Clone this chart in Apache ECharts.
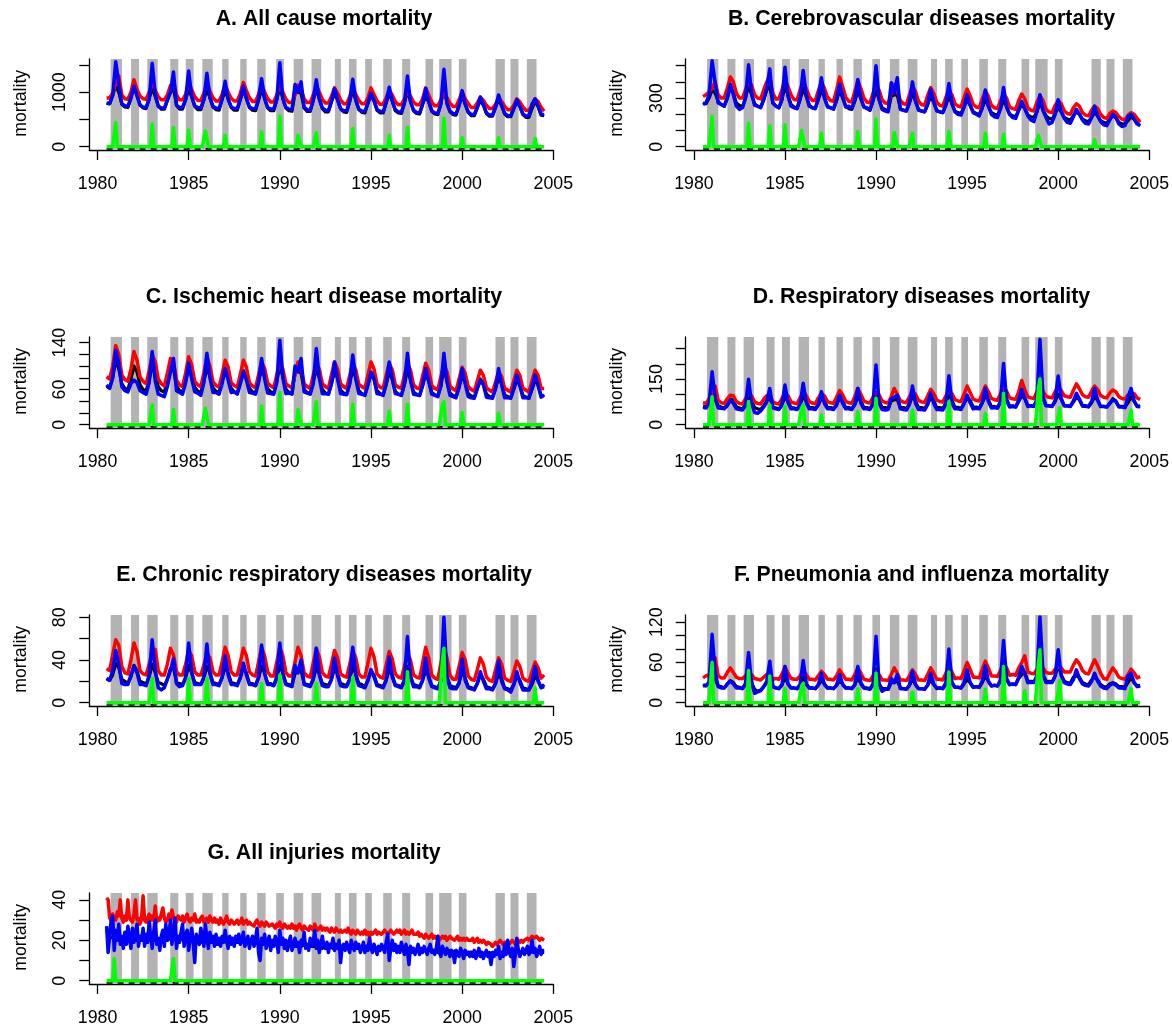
<!DOCTYPE html>
<html>
<head>
<meta charset="utf-8">
<script src="https://cdn.jsdelivr.net/npm/echarts@6/dist/echarts.min.js"></script>
<style>
html,body{margin:0;padding:0;background:#fff;}
#chart{width:1172px;height:1027px;}
</style>
</head>
<body>
<div id="chart"></div>
<script>
// Time span of the monthly series (decimal years)
const T0 = 1980.5, T1 = 2004.5;
const xTicks = [1980, 1985, 1990, 1995, 2000, 2005];

// Influenza epidemic periods (start, end) shaded in every panel
const epidemicPeriods = [
  [1980.72,1981.34],[1981.84,1982.28],[1982.73,1983.30],[1983.99,1984.43],[1984.84,1985.27],
  [1985.75,1986.32],[1986.84,1987.19],[1987.83,1988.18],[1988.76,1989.22],[1989.80,1990.22],
  [1990.76,1991.28],[1991.74,1992.27],[1993.02,1993.35],[1993.79,1994.21],[1994.68,1995.05],
  [1995.67,1996.14],[1996.71,1997.15],[1997.99,1998.41],[1998.74,1999.42],[1999.82,2000.24],
  [2001.83,2002.34],[2002.65,2003.09],[2003.55,2004.08]
];

// A. All cause — two-monthly values (Jul, Sep, Nov, Jan, Mar, May per season)
const allCauseObserved = [
  800,790,950,1120,1000,780, 730,720,890,1100,950,770, 710,700,880,1080,920,750,
  690,690,850,1000,1080,760, 690,690,860,1050,920,740, 680,680,860,1050,900,730,
  680,670,860,1030,880,720, 670,670,860,1040,890,720, 670,660,850,1060,880,710,
  660,660,860,1100,880,710, 660,650,980,1000,980,710, 650,650,850,1060,880,700,
  640,640,820,980,860,690, 640,630,830,1040,850,680, 630,620,800,940,840,670,
  620,620,800,980,840,660, 620,610,800,1020,840,660, 610,600,780,920,820,650,
  600,590,790,1080,800,640, 590,580,760,930,780,630, 570,570,720,850,760,610,
  560,560,720,870,750,600, 550,550,700,820,740,590, 540,540,700,830,740,580, 570
];
const allCauseBaseline = [
  890,900,980,1150,1300,950, 880,870,1000,1230,1050,930, 880,870,1000,1160,1030,920,
  860,860,950,1120,1200,950, 860,860,960,1160,1050,920, 850,850,980,1160,1020,900,
  840,840,960,1130,1000,890, 840,840,980,1180,1030,900, 830,830,960,1130,1000,880,
  820,820,950,1110,1000,870, 810,810,950,1130,1050,880, 810,810,950,1130,1000,870,
  800,800,920,1080,980,860, 790,790,920,1070,960,850, 790,790,900,1080,960,840,
  780,780,900,1040,950,830, 770,770,880,1010,930,820, 770,770,880,1080,950,820,
  750,750,860,990,900,800, 740,740,860,1010,880,790, 720,720,800,910,850,760,
  700,700,780,890,830,740, 680,680,760,880,820,730, 670,670,760,880,830,720, 655
];
const allCauseModel = [
  800,790,940,1560,1160,790, 750,740,900,1110,930,760, 730,720,870,1530,960,740,
  710,710,860,1000,1370,760, 720,720,870,1390,920,750, 720,710,870,1350,900,740,
  710,700,880,1200,870,730, 700,700,880,1110,880,730, 700,690,880,1250,880,720,
  690,690,870,1540,880,720, 690,680,1140,1000,1190,720, 680,670,850,1230,870,710,
  670,660,840,1070,860,700, 660,660,840,1240,860,690, 650,650,800,980,850,680,
  650,640,820,1090,840,680, 640,630,800,1300,830,670, 630,620,780,1070,830,660,
  620,610,780,1420,790,650, 610,600,760,1030,780,640, 590,590,720,910,770,620,
  580,580,730,950,760,610, 570,570,700,860,740,600, 560,570,780,880,740,590, 590
];
const allCauseExcess = [
  [1981.0,440],[1983.0,415],[1984.17,350],[1985.0,305],[1985.92,290],[1986.0,310],[1987.0,210],
  [1989.0,275],[1990.0,565],[1991.0,210],[1991.08,180],[1992.0,255],[1994.0,335],[1996.0,210],
  [1997.0,355],[1999.0,520],[2000.0,170],[2002.0,165],[2004.0,150]
];

// B. Cerebrovascular diseases
const cerebroObserved = [
  270,265,300,350,330,280, 260,250,300,370,330,270, 255,245,300,380,320,265,
  250,245,290,350,370,270, 250,240,290,370,320,260, 245,235,290,360,310,255,
  240,235,290,350,305,250, 240,230,285,350,300,250, 235,230,280,345,295,245,
  235,225,280,350,290,240, 230,220,310,320,320,235, 225,220,270,330,280,230,
  220,215,260,310,275,225, 215,210,255,310,265,220, 210,205,245,290,255,215,
  205,200,240,290,250,210, 200,195,235,290,245,200, 190,185,225,260,235,195,
  185,180,215,270,225,190, 175,170,205,240,215,180, 170,165,190,215,200,170,
  160,155,180,210,190,160, 150,145,170,190,180,150, 140,140,160,185,170,145, 130
];
const cerebroBaseline = [
  310,320,340,360,400,320, 300,300,360,430,400,330, 300,300,350,410,380,320,
  300,295,350,400,430,330, 295,295,350,410,370,320, 290,290,350,400,360,310,
  285,285,345,400,360,305, 285,280,350,430,370,305, 280,275,340,405,360,300,
  275,270,330,385,350,290, 270,265,330,385,345,285, 265,260,320,375,340,280,
  260,255,315,365,330,275, 255,250,305,345,320,265, 250,245,305,355,315,260,
  245,240,295,345,310,255, 240,235,285,325,300,245, 235,230,285,325,295,240,
  225,220,275,315,285,230, 215,210,255,285,265,220, 205,200,240,265,250,210,
  195,190,225,250,235,200, 180,175,205,220,210,185, 170,165,195,210,200,175, 150
];
const cerebroModel = [
  260,270,320,530,395,270, 260,250,300,385,320,250, 230,240,300,505,330,255,
  250,240,290,360,480,270, 250,240,290,490,310,250, 240,235,300,470,320,250,
  240,235,300,425,300,245, 240,235,290,385,310,245, 250,235,290,415,300,245,
  240,225,290,500,290,230, 220,215,395,330,425,230, 225,220,270,400,280,225,
  220,215,260,355,275,220, 215,210,260,390,265,215, 200,195,245,320,255,210,
  200,190,240,350,250,200, 185,180,235,365,245,200, 180,175,225,280,235,190,
  165,155,215,320,225,180, 140,150,200,290,215,175, 150,145,185,230,200,165,
  145,140,180,250,190,155, 135,130,165,200,180,140, 125,130,185,200,170,140, 130
];
const cerebroExcess = [
  [1981.0,188],[1983.0,146],[1984.17,129],[1985.0,135],[1985.92,100],[1986.0,108],[1987.0,83],
  [1989.0,94],[1990.0,171],[1991.0,88],[1991.08,100],[1992.0,83],[1994.0,94],[1996.0,83],
  [1997.0,77],[1998.92,70],[1999.0,77],[2002.0,42]
];

// C. Ischemic heart disease
const ihdObserved = [
  65,63,80,110,95,70, 62,60,78,100,90,68, 60,58,76,100,88,65, 58,56,74,92,96,66,
  58,56,74,95,86,64, 57,55,74,95,84,63, 57,55,74,92,82,62, 56,54,73,92,82,62,
  56,54,73,95,82,61, 56,54,74,100,82,61, 55,53,88,92,88,60, 55,53,72,96,80,60,
  54,52,70,90,80,59, 54,52,70,95,80,58, 53,51,68,86,78,58, 53,51,68,90,78,57,
  52,50,68,94,77,56, 52,50,66,86,75,55, 51,49,66,96,74,54, 50,48,64,84,72,53,
  49,47,62,78,70,52, 48,47,62,80,70,51, 48,46,60,76,68,50, 47,46,60,76,68,50, 49
];
const ihdBaseline = [
  82,78,100,135,120,85, 77,74,95,125,110,82, 74,70,92,119,108,78, 70,66,88,113,108,76,
  68,65,88,116,102,74, 68,65,88,116,100,73, 67,64,86,110,98,72, 67,64,86,110,98,72,
  66,63,85,107,96,71, 66,63,85,105,95,70, 66,63,85,107,96,70, 65,62,84,105,95,70,
  65,62,85,107,95,70, 65,62,84,105,94,69, 65,62,85,107,95,69, 64,62,84,105,94,68,
  64,62,84,105,93,68, 63,61,83,105,93,67, 62,60,82,102,91,66, 61,58,78,98,88,65,
  60,57,75,93,84,63, 59,56,73,90,82,62, 59,56,75,93,84,62, 59,56,75,93,84,62, 62
];
const ihdModel = [
  68,62,80,127,105,65, 58,56,70,76,72,58, 55,52,72,125,75,52, 50,48,65,90,113,58,
  55,52,72,105,78,56, 54,50,72,122,80,55, 55,52,70,96,76,55, 56,52,70,90,76,55,
  54,52,72,113,78,54, 53,52,72,144,80,53, 54,52,100,90,113,56, 54,52,70,130,80,53,
  53,52,70,107,78,53, 52,51,70,119,78,53, 52,50,68,90,78,53, 52,50,70,107,78,53,
  52,50,70,122,76,52, 51,50,68,96,74,52, 50,48,66,122,74,50, 48,46,64,96,70,48,
  46,45,62,76,68,47, 46,45,62,96,68,46, 46,45,62,85,66,46, 46,45,64,85,66,47, 51
];
const ihdExcess = [
  [1983.0,34],[1984.17,26],[1985.92,28],[1986.0,31],[1989.0,32],[1990.0,55],[1991.0,26],
  [1991.08,24],[1992.0,39],[1994.0,35],[1996.0,23],[1997.0,35],[1998.92,34],[1999.0,39],
  [2000.0,21],[2002.0,20]
];

// D. Respiratory diseases
const respObserved = [
  60,58,70,100,85,62, 58,55,65,85,78,58, 55,52,65,95,80,56, 52,50,62,80,90,58,
  55,52,65,90,78,56, 55,52,66,92,78,56, 56,53,66,85,78,56, 56,53,66,88,78,56,
  56,53,66,90,78,56, 56,53,68,105,80,56, 56,53,78,82,82,56, 56,53,68,92,78,56,
  56,53,68,88,78,56, 56,54,70,100,80,57, 57,54,70,88,80,58, 58,55,72,95,82,59,
  60,57,74,105,84,60, 62,58,76,95,86,62, 63,60,78,120,86,63, 62,60,76,100,84,62,
  62,60,74,90,82,61, 60,58,72,92,80,60, 60,58,70,85,78,60, 60,58,72,90,78,60, 62
];
const respBaseline = [
  72,70,85,103,127,80, 72,70,85,97,95,76, 70,68,85,103,95,75, 70,68,84,95,97,75,
  70,68,86,103,95,75, 71,69,88,108,96,76, 71,69,88,103,95,76, 72,70,90,112,98,77,
  72,70,92,119,100,78, 73,71,90,103,98,78, 73,71,92,119,100,79, 74,72,92,108,100,80,
  75,73,94,116,102,81, 76,74,94,114,102,82, 78,76,100,127,106,84, 80,78,102,127,108,86,
  82,80,102,125,110,88, 85,83,108,145,115,92, 88,86,108,125,110,94, 90,88,108,125,112,95,
  92,90,112,134,118,98, 92,90,110,127,115,96, 90,88,104,114,108,92, 86,84,98,103,102,88, 83
];
const respModel = [
  57,55,70,174,85,55, 54,52,62,81,70,52, 50,48,62,149,70,40, 37,45,58,75,119,55,
  52,50,64,130,72,52, 52,50,65,136,72,52, 52,50,65,108,70,52, 52,50,64,97,70,52,
  52,50,66,119,70,52, 52,50,68,196,72,50, 48,50,85,90,97,52, 50,48,66,127,70,50,
  50,48,66,103,70,50, 50,48,68,161,72,52, 52,50,68,97,72,52, 54,52,72,119,76,55,
  56,54,76,201,80,58, 60,58,80,116,86,60, 62,60,84,280,90,62, 62,60,80,160,86,62,
  62,60,78,103,84,62, 62,60,76,119,80,60, 60,58,70,81,76,58, 58,56,90,119,78,60, 59
];
const respExcess = [
  [1981.0,92],[1983.0,76],[1984.17,65],[1985.0,61],[1985.92,55],[1986.0,65],[1987.0,32],
  [1989.0,43],[1990.0,87],[1992.0,48],[1994.0,76],[1996.0,37],[1997.0,103],[1998.92,120],
  [1999.0,150],[2000.08,54],[2004.0,48]
];

// E. Chronic respiratory diseases
const chronicObserved = [
  22,21,26,37,33,22, 20,18,24,35,30,20, 19,17,24,36,28,19, 18,16,22,32,33,19,
  18,17,23,35,28,19, 18,17,23,34,28,19, 18,17,23,34,28,19, 18,17,23,33,28,18,
  18,16,23,34,28,18, 18,16,23,35,28,18, 17,16,27,30,30,18, 17,16,22,33,27,18,
  17,16,22,32,27,18, 17,16,22,34,27,18, 17,15,21,30,26,17, 16,15,21,31,26,17,
  16,15,21,34,25,17, 16,15,21,30,25,16, 15,14,20,36,24,16, 15,14,19,29,23,15,
  14,13,18,26,22,15, 14,13,18,27,22,14, 13,12,17,25,21,14, 13,12,17,25,21,14, 15
];
const chronicBaseline = [
  32,30,45,59,54,34, 28,27,40,56,48,30, 27,26,36,46,50,30, 26,26,36,51,45,29,
  26,26,36,49,44,29, 26,26,35,46,42,29, 26,26,38,52,44,29, 26,26,38,51,44,29,
  26,25,38,52,44,29, 25,25,38,52,44,28, 25,25,38,52,44,28, 25,24,37,51,43,28,
  25,24,36,49,42,27, 25,24,36,49,42,27, 24,24,37,51,43,27, 24,23,35,48,41,27,
  24,23,34,46,40,26, 24,23,37,52,42,26, 23,22,37,52,42,26, 22,22,34,47,40,25,
  22,21,31,42,36,24, 21,20,31,42,36,23, 21,20,29,39,34,23, 21,20,29,38,33,23, 26
];
const chronicModel = [
  23,21,30,49,36,18, 17,17,26,34,28,17, 17,16,26,59,30,14, 12,14,22,30,41,18,
  15,16,24,56,28,17, 17,17,24,55,27,17, 17,16,24,44,26,17, 17,16,24,37,26,17,
  17,16,24,54,27,17, 17,16,24,56,27,17, 16,15,35,28,40,17, 16,15,22,51,26,16,
  15,15,22,42,25,16, 15,15,22,52,25,16, 15,14,21,31,24,16, 15,14,21,43,24,16,
  15,14,21,62,24,15, 15,14,21,42,23,15, 14,13,21,80,24,14, 13,13,18,41,21,14,
  13,12,18,29,20,13, 13,12,18,39,20,13, 12,10,17,29,19,12, 12,12,20,34,20,14, 17
];
const chronicExcess = [
  [1983.0,23],[1985.0,23],[1986.0,23],[1989.0,18],[1990.0,26],[1992.0,18],[1994.0,24],
  [1997.0,29],[1998.92,40],[1999.0,51],[2004.0,14]
];

// F. Pneumonia and influenza
const pniObserved = [
  27,25,30,45,35,25, 24,22,28,33,30,24, 23,21,28,45,30,20, 17,19,24,30,38,24,
  22,21,26,38,28,22, 22,21,26,40,28,22, 22,21,26,34,28,22, 22,21,26,33,28,22,
  22,21,26,38,28,22, 22,21,26,50,28,21, 21,20,30,30,33,22, 21,20,26,35,27,21,
  21,20,26,34,27,21, 22,21,28,45,30,23, 23,22,28,35,30,23, 24,23,30,40,32,25,
  26,25,32,52,34,27, 28,27,36,42,45,32, 32,31,40,70,42,32, 32,31,40,55,42,32,
  30,29,38,40,38,30, 28,27,34,38,34,27, 24,23,28,30,28,24, 24,23,30,38,30,25, 26
];
const pniBaseline = [
  37,40,42,42,67,40, 37,37,45,52,45,38, 36,36,40,44,42,36, 35,34,38,42,42,35,
  36,35,42,54,44,36, 35,35,40,49,42,35, 35,34,40,47,42,35, 35,34,40,49,42,35,
  35,34,42,52,44,35, 34,33,40,47,42,34, 34,33,42,52,44,34, 34,33,40,49,42,34,
  34,33,42,52,44,35, 35,34,44,54,46,36, 37,36,48,60,50,38, 38,37,50,62,52,40,
  40,39,48,59,52,41, 42,41,52,60,70,46, 44,43,50,54,52,45, 44,44,50,54,52,46,
  46,46,56,64,58,48, 44,43,54,64,55,44, 36,35,44,52,46,38, 36,35,42,50,45,37, 39
];
const pniModel = [
  25,26,30,102,45,24, 22,22,28,32,28,22, 22,21,28,75,30,14, 16,18,24,32,62,24,
  22,21,27,54,28,22, 22,21,27,63,28,22, 22,21,27,44,27,22, 22,21,26,42,27,22,
  22,21,27,54,30,22, 21,20,28,99,28,17, 20,20,36,30,42,21, 21,20,26,47,27,21,
  21,20,26,44,28,22, 22,21,30,80,30,23, 23,22,30,49,30,23, 24,23,32,55,32,25,
  26,25,34,93,36,27, 28,27,38,54,44,30, 30,30,40,128,42,30, 30,30,40,79,40,30,
  28,27,34,49,36,28, 26,25,32,44,32,25, 22,21,26,29,26,22, 22,21,40,44,30,24, 25
];
const pniExcess = [
  [1981.0,60],[1983.0,48],[1984.17,40],[1985.0,21],[1985.92,25],[1986.0,29],[1989.0,21],
  [1990.0,44],[1992.0,16],[1994.0,46],[1996.0,20],[1997.0,54],[1998.17,18],[1998.92,60],
  [1999.0,79],[2000.08,33],[2004.0,21]
];

// G. All injuries — monthly values (Jul..Jun per row)
const injuryObserved = [
  25,23,22,22,21,22,21,22,21,21,20,21, 21,20,21,22,21,20,21,21,20,21,20,20,
  21,20,21,20,21,20,20,21,20,21,20,20, 20,21,20,21,20,20,21,20,20,21,20,20,
  20,20,21,20,20,21,20,20,20,21,20,20, 20,20,19,20,20,20,19,20,20,19,20,19,
  19,20,19,20,19,19,20,19,19,20,19,19, 19,19,20,19,19,20,19,19,19,20,19,19,
  19,18,19,19,18,19,19,18,19,18,19,18, 18,18,19,18,18,18,19,18,18,18,17,18,
  18,17,18,18,17,18,17,18,17,17,18,17, 17,17,18,17,17,17,18,17,17,17,16,17,
  17,17,16,17,17,16,17,17,16,17,16,16, 16,16,17,16,16,16,17,16,16,16,16,16,
  16,16,16,17,16,16,16,16,17,16,16,16, 16,16,16,17,16,16,16,16,16,16,16,16,
  16,16,16,16,16,15,16,16,15,16,15,15, 15,15,15,16,15,15,15,15,15,15,15,15,
  15,15,14,15,15,14,15,15,14,15,14,14, 14,14,15,14,14,14,14,14,14,14,14,14,
  14,14,14,14,13,14,14,14,13,14,14,13, 14,13,14,14,13,14,14,13,14,14,13,14,
  14,14,14,14,14,14,14,14,14,14,14,14, 14,14,15,14,15,15,14,15,15,14,15,14, 14
];
const injuryBaseline = [
  41,40,31,30,33,31,30,34,32,40,31,29, 32,30,40,31,30,29,33,40,30,31,28,31,
  42,30,29,31,33,30,32,30,37,29,31,30, 30,36,31,29,30,33,30,35,31,30,29,32,
  31,30,32,29,31,33,30,29,31,30,33,29, 30,29,31,32,29,30,31,29,32,30,29,31,
  29,30,28,31,29,28,30,32,29,28,30,29, 28,29,30,28,29,31,28,29,30,28,29,28,
  28,27,29,30,28,27,29,28,27,29,28,27, 27,28,27,26,28,27,29,27,26,28,27,26,
  27,26,28,26,27,25,27,28,26,25,27,26, 26,25,27,26,25,28,26,25,26,27,25,26,
  25,26,25,24,26,25,24,26,25,24,25,24, 24,25,24,26,24,23,25,24,23,25,24,23,
  24,23,25,23,24,22,24,23,24,25,23,24, 24,23,24,25,24,23,24,25,24,23,24,25,
  24,25,23,24,25,23,24,23,24,25,23,23, 23,24,22,23,22,21,23,22,21,22,23,21,
  22,21,22,20,21,22,21,22,20,21,22,21, 21,20,21,22,20,21,20,21,20,21,20,20,
  20,21,19,20,21,19,20,19,20,19,18,19, 19,18,17,18,19,18,19,20,19,18,19,19,
  19,18,19,20,19,18,19,20,19,20,19,20, 20,21,20,21,22,21,21,22,21,20,21,21, 20
];
const injuryModel = [
  27,14,22,30,32,15,25,20,28,18,22,16, 24,18,27,21,16,26,19,23,28,17,22,20,
  26,17,23,19,29,22,16,24,30,18,21,15, 22,25,17,28,20,23,30,18,24,31,16,22,
  19,24,28,17,22,25,15,21,26,19,9,23, 20,18,26,22,17,28,21,16,24,19,22,17,
  23,18,21,17,22,19,25,20,16,22,18,21, 17,22,19,23,18,20,24,17,19,22,16,20,
  22,17,20,26,14,10,21,18,23,16,19,22, 15,20,17,22,19,14,25,18,21,16,20,15,
  19,22,15,18,21,17,19,14,20,18,24,16, 18,15,21,17,19,25,16,20,14,18,22,17,
  16,19,14,18,17,21,15,18,16,20,9,17, 18,15,19,16,14,20,17,15,19,16,18,14,
  16,19,14,17,15,21,16,14,18,16,13,17, 15,18,16,14,19,23,10,16,20,15,18,14,
  17,14,19,16,13,18,15,8,17,14,16,13, 15,18,13,16,14,17,15,13,16,18,14,15,
  13,16,22,14,12,17,15,13,16,14,12,15, 14,9,15,13,12,16,14,11,15,13,14,12,
  14,12,15,11,13,16,12,14,11,13,15,12, 13,8,14,12,15,13,17,11,14,12,18,13,
  20,14,12,16,7,13,21,15,12,14,16,13, 15,17,13,15,20,14,16,12,14,17,13,15, 15
];
const injuryExcess = [[1980.92,11],[1984.17,11]];

// Panel definitions: title, series and y-axis scale
const panels = [
  { title: 'A. All cause mortality', obs: allCauseObserved, base: allCauseBaseline, model: allCauseModel, excess: allCauseExcess,
    yMax: 1610, ticks: [0,500,1000,1500], labels: [0,1000] },
  { title: 'B. Cerebrovascular diseases mortality', obs: cerebroObserved, base: cerebroBaseline, model: cerebroModel, excess: cerebroExcess,
    yMax: 541, ticks: [0,100,200,300,400,500], labels: [0,300] },
  { title: 'C. Ischemic heart disease mortality', obs: ihdObserved, base: ihdBaseline, model: ihdModel, excess: ihdExcess,
    yMax: 149.7, ticks: [0,20,40,60,80,100,120,140], labels: [0,60,140] },
  { title: 'D. Respiratory diseases mortality', obs: respObserved, base: respBaseline, model: respModel, excess: respExcess,
    yMax: 287.8, ticks: [0,50,100,150,200,250], labels: [0,150] },
  { title: 'E. Chronic respiratory diseases mortality', obs: chronicObserved, base: chronicBaseline, model: chronicModel, excess: chronicExcess,
    yMax: 82.2, ticks: [0,20,40,60,80], labels: [0,40,80] },
  { title: 'F. Pneumonia and influenza mortality', obs: pniObserved, base: pniBaseline, model: pniModel, excess: pniExcess,
    yMax: 130.9, ticks: [0,20,40,60,80,100,120], labels: [0,60,120] },
  { title: 'G. All injuries mortality', obs: injuryObserved, base: injuryBaseline, model: injuryModel, excess: injuryExcess,
    yMax: 43.4, ticks: [0,10,20,30,40], labels: [0,20,40] }
];

// Layout (pixels)
const COL_LEFT = [89.3, 685.7];
const PLOT_W = 464;
const ZERO_Y = [146.7, 424.7, 702.7, 980.7];
const ABOVE_ZERO = 87.7, BELOW_ZERO = 3.3;
const TITLE_X = [324, 921.5];
const YLAB_X = [21, 617];
const FONT = '"Liberation Sans", Arial, Helvetica, sans-serif';
const LABEL_SIZE = 17.75, TITLE_SIZE = 21.3;
const plain = v => String(v);

function evenPoints(values) {
  const step = (T1 - T0) / (values.length - 1);
  return values.map((v, i) => [T0 + i * step, v]);
}
function spikePoints(spikes) {
  const n = Math.round((T1 - T0) * 12);
  const ys = new Array(n + 1).fill(0);
  spikes.forEach(([t, v]) => {
    const k = Math.round((t - T0) * 12);
    if (k >= 0 && k <= n) ys[k] = v;
  });
  return ys.map((v, k) => [T0 + k / 12, v]);
}

const grid = [], xAxis = [], yAxis = [], series = [], graphic = [];

panels.forEach((p, i) => {
  const col = i % 2, row = Math.floor(i / 2);
  const pxPerUnit = ABOVE_ZERO / p.yMax;
  const yMin = -BELOW_ZERO / pxPerUnit;
  const dashLevel = -2.2 / pxPerUnit;

  grid.push({ left: COL_LEFT[col], top: ZERO_Y[row] - ABOVE_ZERO, width: PLOT_W, height: ABOVE_ZERO + BELOW_ZERO, containLabel: false });

  xAxis.push({
    type: 'value', gridIndex: i, min: 1979.55, max: 2005,
    axisLine: { show: true, onZero: false, lineStyle: { color: '#000', width: 1.3 } },
    axisTick: { show: true, customValues: xTicks, length: 10, lineStyle: { color: '#000', width: 1.3 } },
    axisLabel: { show: true, customValues: xTicks, formatter: plain, color: '#000', fontSize: LABEL_SIZE, fontFamily: FONT, margin: 25 },
    splitLine: { show: false }
  });
  yAxis.push({
    type: 'value', gridIndex: i, min: yMin, max: p.yMax,
    axisLine: { show: true, onZero: false, lineStyle: { color: '#000', width: 1.3 } },
    axisTick: { show: true, customValues: p.ticks, length: 10, lineStyle: { color: '#000', width: 1.3 } },
    axisLabel: { show: true, customValues: p.labels, formatter: plain, rotate: 90, color: '#000', fontSize: LABEL_SIZE, fontFamily: FONT, margin: 20 },
    splitLine: { show: false }
  });

  // shaded epidemic periods
  series.push({
    type: 'custom', xAxisIndex: i, yAxisIndex: i, silent: true, z: 1,
    data: epidemicPeriods,
    encode: { x: [0, 1] },
    renderItem: (params, api) => {
      const a = api.coord([api.value(0), p.yMax]);
      const b = api.coord([api.value(1), dashLevel]);
      return { type: 'rect', shape: { x: a[0], y: a[1], width: b[0] - a[0], height: b[1] - a[1] }, style: { fill: '#B3B3B3' } };
    }
  });
  // dashed reference line
  series.push({
    type: 'line', xAxisIndex: i, yAxisIndex: i, silent: true, z: 2, symbol: 'none',
    data: [[T0, dashLevel], [T1, dashLevel]],
    lineStyle: { color: '#000', width: 1.6, type: [6, 5] }
  });
  const lineSeries = (data, color, z, width) => ({
    type: 'line', xAxisIndex: i, yAxisIndex: i, silent: true, z, symbol: 'none', showSymbol: false,
    data, lineStyle: { color, width, join: 'round' }
  });
  series.push(lineSeries(evenPoints(p.obs), '#000000', 3, 3.2));
  series.push(lineSeries(evenPoints(p.base), '#FF0000', 4, 3.5));
  series.push(lineSeries(evenPoints(p.model), '#0000FF', 5, 3.5));
  series.push(lineSeries(spikePoints(p.excess), '#00FF00', 6, 3.5));

  graphic.push({
    type: 'text', x: TITLE_X[col], y: ZERO_Y[row] - 127.5, silent: true,
    style: { text: p.title, font: 'bold ' + TITLE_SIZE + 'px ' + FONT, textAlign: 'center', textVerticalAlign: 'middle', fill: '#000' }
  });
  graphic.push({
    type: 'text', x: YLAB_X[col], y: ZERO_Y[row] - 43.4, rotation: Math.PI / 2, silent: true,
    style: { text: 'mortality', font: LABEL_SIZE + 'px ' + FONT, textAlign: 'center', textVerticalAlign: 'middle', fill: '#000' }
  });
});

const chart = echarts.init(document.getElementById('chart'), null, { renderer: 'canvas' });
chart.setOption({
  animation: false,
  backgroundColor: '#ffffff',
  grid, xAxis, yAxis, series, graphic
});
</script>
</body>
</html>
